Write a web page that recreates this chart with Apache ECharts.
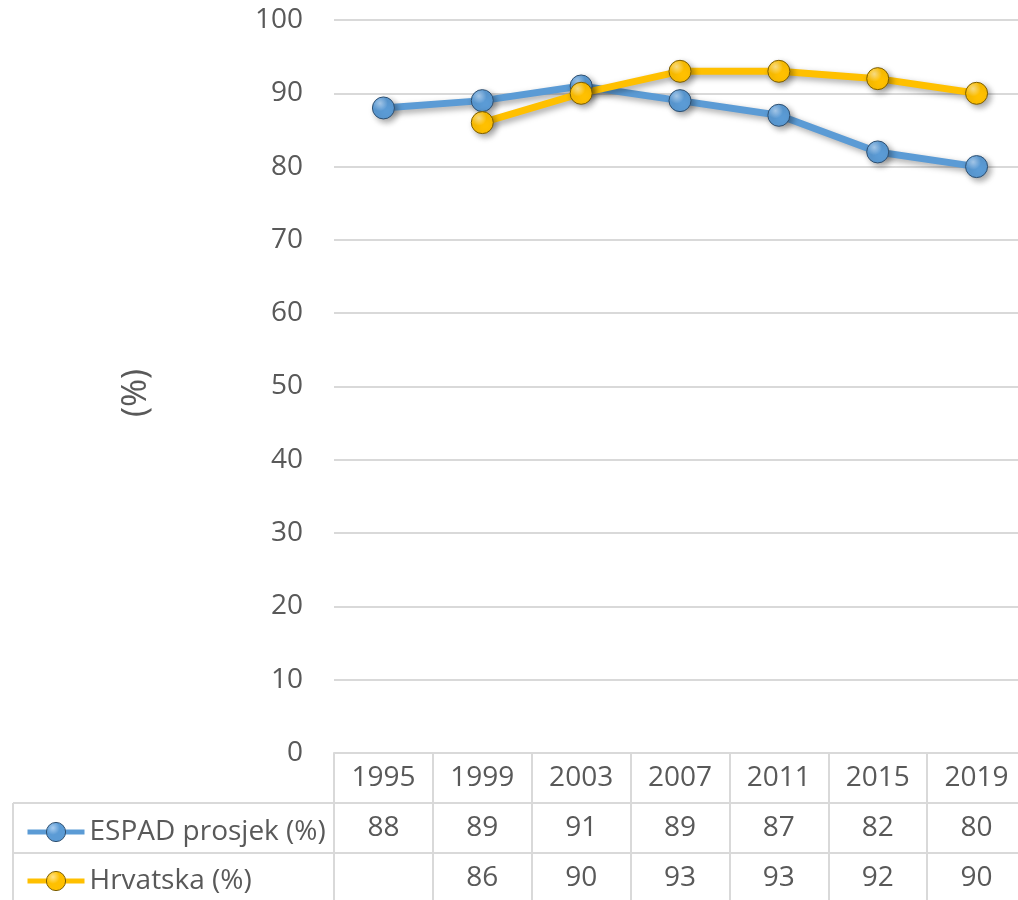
<!DOCTYPE html>
<html>
<head>
<meta charset="utf-8">
<style>
  html, body { margin: 0; padding: 0; background: #fff; }
  #chart { width: 1018px; height: 900px; }
</style>
<script src="https://cdn.jsdelivr.net/npm/echarts@6/dist/echarts.min.js"></script>
</head>
<body>
<div id="chart"></div>
<script>
// podaci
const years = ['1995', '1999', '2003', '2007', '2011', '2015', '2019'];
const espad = [88, 89, 91, 89, 87, 82, 80];
const hrvatska = [null, 86, 90, 93, 93, 92, 90];
const yTicks = { min: 0, max: 100, interval: 10 };

const txt = '#595959';
const gridCol = '#d9d9d9';
const font = '"Open Sans", Lato, sans-serif';

const chart = echarts.init(document.getElementById('chart'));

// kugla s malim odsjajem
function ball(base, light) {
    return new echarts.graphic.RadialGradient(0.35, 0.3, 0.75, [
        { offset: 0, color: light },
        { offset: 0.45, color: base },
        { offset: 1, color: base }
    ]);
}

function lineSeries(name, data, base, light, border) {
    return {
        name: name,
        type: 'line',
        data: data,
        symbol: 'circle',
        symbolSize: 22,
        connectNulls: false,
        lineStyle: {
            width: 7,
            color: base,
            shadowColor: 'rgba(0,0,0,0.35)',
            shadowBlur: 6,
            shadowOffsetX: 3,
            shadowOffsetY: 3
        },
        itemStyle: {
            color: ball(base, light),
            borderColor: border,
            borderWidth: 1,
            shadowColor: 'rgba(0,0,0,0.35)',
            shadowBlur: 6,
            shadowOffsetX: 3,
            shadowOffsetY: 3
        },
        emphasis: { disabled: true }
    };
}

// tekst tablice ispod osi
const cell = (v) => (v === null || v === undefined) ? '' : String(v);

const legendBase = {
    left: 20,
    itemWidth: 57, itemHeight: 24, itemGap: 3,
    lineStyle: { width: 5 },
    itemStyle: { borderWidth: 1 },
    textStyle: { color: txt, fontSize: 28, fontFamily: font, lineHeight: 30 }
};

const option = {
    animation: false,
    textStyle: { fontFamily: font },
    grid: { left: 334, width: 692, top: 20, bottom: 147, outerBoundsMode: 'none', containLabel: false },
    legend: [
        Object.assign({ data: ['ESPAD prosjek (%)'], top: 812 }, legendBase),
        Object.assign({ data: ['Hrvatska (%)'], top: 861 }, legendBase)
    ],
    xAxis: {
        type: 'category',
        data: years,
        boundaryGap: true,
        axisLine: { lineStyle: { color: gridCol, width: 2 } },
        axisTick: { show: true, length: 147, lineStyle: { color: gridCol, width: 2 } },
        axisLabel: {
            margin: 0,
            interval: 0,
            formatter: function (val, idx) {
                return '{r|' + val + '}\n{r|' + cell(espad[idx]) + '}\n{r|' + cell(hrvatska[idx]) + '}';
            },
            rich: {
                r: { fontSize: 28, color: txt, fontFamily: font, lineHeight: 50, height: 50 }
            }
        }
    },
    yAxis: {
        type: 'value',
        min: yTicks.min,
        max: yTicks.max,
        interval: yTicks.interval,
        axisLine: { show: false },
        axisTick: { show: false },
        axisLabel: { color: txt, fontSize: 28, margin: 31, fontFamily: font },
        splitLine: { lineStyle: { color: gridCol, width: 2 } }
    },
    graphic: [
        // naslov osi
        {
            type: 'text', x: 136, y: 393, rotation: Math.PI / 2, silent: true,
            style: { text: '(%)', fill: txt, fontSize: 34, fontFamily: font, align: 'center', verticalAlign: 'middle' }
        },
        // rubovi tablice
        { type: 'line', shape: { x1: 13, y1: 803, x2: 1018, y2: 803 }, style: { stroke: gridCol, lineWidth: 2 }, silent: true },
        { type: 'line', shape: { x1: 13, y1: 853, x2: 1018, y2: 853 }, style: { stroke: gridCol, lineWidth: 2 }, silent: true },
        { type: 'line', shape: { x1: 13, y1: 803, x2: 13, y2: 900 }, style: { stroke: gridCol, lineWidth: 2 }, silent: true }
    ],
    series: [
        lineSeries('ESPAD prosjek (%)', espad, '#5b9bd5', '#a9cdf0', '#2e4f70'),
        lineSeries('Hrvatska (%)', hrvatska, '#ffc000', '#ffe38a', '#7a5c00')
    ]
};

chart.setOption(option);

window.addEventListener('resize', function () {
    chart.resize();
});
</script>
</body>
</html>
